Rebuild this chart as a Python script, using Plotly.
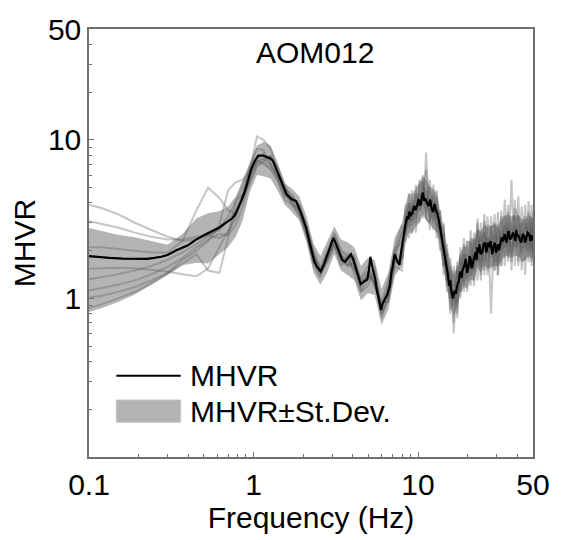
import plotly.graph_objects as go

# ---- Frequency grid used for the individual records and the ±1σ band (Hz)
freq = [0.10, 0.12, 0.15, 0.19, 0.24, 0.30, 0.37, 0.45, 0.53, 0.62,
        0.70, 0.78, 0.86, 0.95, 1.05, 1.15, 1.27, 1.40, 1.55, 1.72,
        1.90, 2.10, 2.32, 2.55, 2.80, 3.10, 3.40, 3.75, 4.10, 4.50,
        4.95, 5.45, 6.00, 6.60, 7.25,
        8.0, 8.4, 8.8, 9.2, 9.7, 10.2, 10.7, 11.2, 11.8, 12.4,
        13.0, 13.6, 14.3, 15.0, 15.7, 16.5, 17.3, 18.1, 19.0, 19.9,
        20.9, 21.9, 23.0, 24.1, 25.3, 26.5, 27.8, 29.2, 30.6, 32.1,
        33.7, 35.3, 37.0, 38.8, 40.7, 42.7, 44.8, 47.0, 49.0, 50.0]

# ---- MHVR + standard deviation and MHVR - standard deviation
band_upper = [2.78, 2.65, 2.52, 2.43, 2.30, 2.18, 2.55, 3.2, 3.45, 3.55,
              3.8, 4.4, 5.6, 7.1, 9.2, 9.7, 9.2, 7.2, 5.3, 4.9,
              4.4, 3.3, 2.2, 1.85, 2.3, 2.85, 2.35, 2.25, 2.1, 1.6,
              1.8, 1.75, 1.15, 1.45, 2.45,
              3.0, 3.9, 4.6, 4.5, 5.0, 5.4, 5.9, 5.6, 5.1, 4.9,
              4.6, 3.7, 2.8, 2.1, 1.7, 1.4, 1.6, 1.95, 2.15, 2.1,
              2.4, 2.35, 2.8, 2.6, 2.95, 2.8, 2.85, 2.95, 2.9, 3.15,
              3.35, 3.35, 3.3, 3.35, 3.35, 3.15, 3.15, 3.35, 3.3, 3.15]
band_lower = [0.82, 0.87, 0.95, 1.06, 1.22, 1.40, 1.62, 1.68, 1.66, 1.9,
              2.1, 2.45, 3.1, 4.7, 6.0, 5.9, 5.7, 4.8, 3.9, 3.5,
              3.1, 2.25, 1.45, 1.22, 1.45, 1.9, 1.5, 1.4, 1.3, 0.97,
              1.08, 1.05, 0.68, 0.85, 1.4,
              1.6, 2.2, 2.6, 2.55, 2.85, 3.0, 3.4, 3.1, 2.9, 2.75,
              2.6, 2.05, 1.55, 1.15, 0.92, 0.78, 0.87, 1.07, 1.18, 1.15,
              1.3, 1.3, 1.55, 1.45, 1.62, 1.55, 1.55, 1.62, 1.58, 1.73,
              1.85, 1.85, 1.8, 1.85, 1.85, 1.73, 1.73, 1.85, 1.8, 1.73]

# ---- Individual H/V records
rec_1 = [3.9, 3.7, 3.4, 3.0, 2.7, 2.45, 2.3, 2.35, 2.5, 2.7,
         3.1, 3.6, 4.6, 6.4, 10.5, 10.0, 8.8, 6.5, 5.0, 4.3,
         3.9, 2.9, 1.9, 1.6, 2.0, 2.6, 2.0, 1.9, 1.7, 1.3,
         1.5, 1.2, 0.95, 1.3, 2.1,
         2.9, 2.3, 4.6, 2.6, 5.2, 3.0, 6.0, 3.2, 5.6, 2.7,
         4.8, 2.0, 3.0, 1.1, 1.8, 0.7, 1.7, 1.0, 2.4, 1.1,
         2.7, 1.2, 3.2, 1.3, 3.4, 1.4, 3.3, 1.5, 3.5, 1.6,
         4.2, 1.7, 5.6, 1.6, 4.4, 1.5, 3.9, 1.7, 3.9, 1.8]
rec_2 = [3.07, 2.95, 2.8, 2.6, 2.45, 2.35, 2.35, 2.45, 2.5, 2.4,
         2.6, 3.2, 4.3, 6.0, 7.5, 8.2, 7.2, 5.6, 4.4, 4.4,
         3.5, 2.5, 1.7, 1.4, 1.7, 2.2, 1.7, 1.6, 1.9, 1.1,
         1.3, 1.6, 0.8, 1.0, 1.6,
         1.5, 3.9, 2.4, 4.8, 2.6, 5.6, 3.2, 8.3, 2.7, 5.2,
         2.4, 3.6, 1.4, 2.2, 0.8, 1.6, 0.75, 2.1, 1.1, 2.3,
         1.2, 2.6, 1.3, 3.0, 1.4, 3.3, 0.8, 3.4, 1.4, 3.6,
         1.6, 3.9, 1.5, 4.2, 1.6, 3.8, 1.4, 4.1, 1.6, 3.5]
rec_3 = [2.1, 2.1, 2.05, 2.0, 1.95, 1.95, 2.3, 3.6, 5.0, 4.3,
         3.6, 3.4, 4.2, 5.6, 7.2, 7.6, 7.9, 6.8, 5.3, 4.0,
         3.6, 2.8, 2.0, 1.5, 1.8, 2.5, 2.0, 1.8, 1.5, 1.35,
         1.6, 1.2, 0.9, 1.2, 2.0,
         2.6, 2.5, 4.0, 2.9, 4.6, 3.6, 4.0, 6.5, 3.3, 3.2,
         4.4, 2.4, 2.6, 1.3, 1.5, 0.6, 1.6, 1.1, 2.2, 1.3,
         1.4, 2.4, 1.6, 2.7, 1.5, 2.9, 2.8, 1.5, 2.8, 1.6,
         3.3, 1.8, 3.1, 3.3, 1.7, 2.9, 3.3, 1.8, 3.2, 2.0]
rec_4 = [1.54, 1.55, 1.56, 1.55, 1.52, 1.48, 1.42, 1.38, 1.55, 2.1,
         2.7, 3.3, 4.5, 6.8, 8.8, 8.6, 7.0, 5.9, 4.6, 3.9,
         3.4, 2.6, 1.6, 1.35, 1.9, 2.2, 1.6, 1.9, 1.4, 1.1,
         1.2, 1.5, 0.75, 1.05, 1.7,
         1.8, 3.6, 2.8, 4.2, 3.0, 5.1, 5.5, 3.2, 3.0, 4.6,
         2.6, 3.6, 1.6, 2.0, 1.0, 1.5, 0.8, 1.9, 1.2, 2.3,
         2.2, 1.3, 3.0, 1.4, 3.1, 1.5, 2.8, 3.0, 1.4, 3.3,
         1.8, 3.5, 1.7, 3.7, 3.3, 1.7, 1.8, 3.5, 1.7, 2.6]
rec_5 = [1.32, 1.36, 1.42, 1.5, 1.6, 1.75, 1.95, 2.2, 2.45, 2.75,
         3.3, 4.0, 5.2, 6.6, 7.4, 7.0, 6.6, 5.8, 4.5, 4.1,
         3.9, 2.6, 1.75, 1.55, 1.75, 2.3, 1.9, 1.6, 1.7, 1.25,
         1.35, 1.3, 0.95, 0.95, 2.0,
         2.3, 2.6, 3.9, 3.1, 4.2, 3.6, 5.1, 3.7, 5.0, 3.0,
         3.8, 2.4, 2.9, 1.2, 1.6, 0.9, 1.5, 1.1, 1.9, 1.4,
         2.3, 1.5, 2.7, 1.6, 2.6, 1.9, 2.7, 1.7, 2.8, 2.0,
         3.0, 1.9, 2.8, 2.1, 3.3, 1.9, 3.0, 2.0, 3.2, 1.9]
rec_6 = [1.12, 1.16, 1.22, 1.3, 1.42, 1.58, 1.8, 2.1, 2.35, 2.55,
         2.5, 2.9, 3.8, 5.5, 7.0, 7.3, 7.9, 6.4, 4.9, 4.5,
         3.8, 2.9, 1.9, 1.45, 1.8, 2.2, 1.9, 1.7, 1.6, 1.2,
         1.45, 1.25, 0.85, 1.15, 1.9,
         1.8, 3.3, 3.1, 3.9, 3.4, 4.6, 3.8, 4.8, 3.4, 4.4,
         3.1, 3.2, 1.8, 1.9, 1.0, 1.25, 0.9, 1.8, 1.4, 1.9,
         1.5, 2.3, 1.7, 2.5, 1.9, 2.4, 1.6, 2.9, 1.7, 2.7,
         2.1, 3.0, 1.9, 2.9, 2.1, 3.0, 2.1, 2.8, 2.0, 2.8]
rec_7 = [0.87, 0.92, 1.0, 1.1, 1.25, 1.45, 1.75, 2.0, 2.3, 2.9,
         4.8, 5.4, 5.6, 6.3, 7.3, 7.6, 6.9, 6.0, 4.6, 4.0,
         3.6, 2.7, 1.85, 1.5, 1.9, 2.4, 1.8, 1.8, 1.8, 1.3,
         1.35, 1.4, 0.9, 1.1, 1.8,
         2.6, 2.8, 4.0, 3.1, 4.6, 3.8, 5.4, 3.5, 4.3, 3.3,
         3.9, 2.5, 2.5, 1.3, 1.45, 0.95, 1.5, 1.2, 1.9, 1.35,
         2.0, 1.55, 2.5, 1.6, 2.6, 1.9, 2.4, 1.9, 2.5, 2.0,
         2.9, 2.2, 3.0, 2.0, 2.9, 2.0, 3.0, 2.2, 2.8, 2.0]
rec_8 = [1.01, 1.04, 1.1, 1.18, 1.3, 1.45, 1.65, 1.9, 1.5, 1.45,
         2.4, 4.2, 4.5, 5.3, 6.8, 7.3, 6.5, 5.5, 4.2, 3.9,
         3.3, 2.5, 1.7, 1.45, 1.7, 2.1, 1.75, 1.65, 1.55, 1.15,
         1.4, 1.3, 0.8, 1.0, 1.7,
         1.8, 3.2, 2.9, 3.9, 3.2, 4.6, 4.1, 5.0, 3.1, 4.0,
         2.9, 3.0, 1.6, 1.7, 0.85, 1.15, 0.95, 1.75, 1.25, 1.7,
         1.4, 2.0, 1.7, 2.2, 1.7, 2.4, 1.8, 2.5, 1.6, 2.6,
         2.1, 2.8, 2.0, 2.9, 2.2, 2.7, 2.0, 3.1, 2.0, 2.8]
records = [rec_1, rec_2, rec_3, rec_4, rec_5, rec_6, rec_7, rec_8]

# ---- Mean H/V ratio (MHVR), sampled more finely
mean_freq = [0.10, 0.115, 0.133, 0.16, 0.198, 0.225, 0.249, 0.275, 0.30, 0.34,
             0.40, 0.447, 0.506, 0.564, 0.62, 0.674, 0.741, 0.77, 0.804, 0.845,
             0.885, 0.93, 0.973, 1.02, 1.07, 1.146, 1.21, 1.26, 1.31, 1.37,
             1.44, 1.51, 1.59, 1.70, 1.82, 1.95, 2.09, 2.17, 2.26, 2.34,
             2.42, 2.49, 2.56, 2.67, 2.78, 2.92, 3.06, 3.18, 3.32, 3.46,
             3.60, 3.75, 3.91, 4.02, 4.12, 4.30, 4.48, 4.60, 4.73, 4.92,
             5.03, 5.13, 5.27, 5.38, 5.49, 5.60, 5.72, 5.84, 5.96, 6.08,
             6.21, 6.35, 6.47, 6.60, 6.74, 6.88, 7.02, 7.21, 7.36, 7.51,
             7.62, 7.72, 7.88, 8.04, 8.15, 8.26, 8.43, 8.61, 8.73, 8.85,
             9.03, 9.21, 9.34, 9.47, 9.66, 9.86, 9.98, 10.1, 10.25, 10.4,
             10.55, 10.7, 10.9, 11.1, 11.35, 11.6, 11.85, 12.1, 12.35, 12.6,
             12.85, 13.1, 13.4, 13.7, 14.0, 14.3, 14.6, 14.9, 15.2, 15.5,
             15.7, 15.9, 16.1, 16.3, 16.65, 17.0, 17.35, 17.7, 17.95, 18.2,
             18.45, 18.7, 19.1, 19.5, 19.9, 20.3, 20.6, 20.9, 21.15, 21.4,
             21.9, 22.4, 22.7, 23.0, 23.3, 23.6, 24.1, 24.6, 25.1, 25.6,
             25.95, 26.3, 26.65, 27.0, 27.6, 28.2, 28.75, 29.3, 29.75, 30.2,
             30.6, 31.0, 31.65, 32.3, 32.95, 33.6, 34.05, 34.5, 35.0, 35.5,
             36.25, 37.0, 37.75, 38.5, 39.05, 39.6, 40.15, 40.7, 41.55, 42.4,
             43.3, 44.2, 44.8, 45.4, 46.35, 47.3, 48.1, 49.0, 50.0]
mean_hvr = [1.85, 1.82, 1.80, 1.78, 1.77, 1.775, 1.80, 1.83, 1.88, 2.01,
            2.16, 2.35, 2.52, 2.66, 2.80, 2.98, 3.19, 3.35, 3.67, 4.15,
            4.72, 5.6, 6.6, 7.4, 7.95, 7.95, 7.80, 7.65, 7.4, 6.6,
            5.75, 5.1, 4.53, 4.23, 4.10, 3.42, 2.78, 2.35, 1.96, 1.72,
            1.59, 1.52, 1.48, 1.62, 1.83, 2.15, 2.41, 2.2, 1.96, 1.75,
            1.70, 1.80, 1.90, 1.78, 1.63, 1.40, 1.23, 1.26, 1.29, 1.32,
            1.50, 1.83, 1.59, 1.45, 1.32, 1.15, 1.04, 0.92, 0.845, 0.92,
            0.97, 1.01, 1.04, 1.12, 1.20, 1.45, 1.59, 1.90, 1.78, 1.70,
            1.66, 1.63, 1.95, 2.25, 2.45, 2.78, 3.0, 3.29, 3.15, 3.52,
            3.35, 3.43, 3.7, 3.83, 3.6, 3.94, 4.1, 4.23, 3.85, 3.94,
            4.3, 4.66, 4.2, 4.23, 4.0, 3.83, 4.2, 3.67, 3.5, 3.94,
            3.6, 3.43, 3.1, 2.70, 2.45, 2.10, 1.85, 1.59, 1.4, 1.20,
            1.3, 1.12, 1.05, 1.00, 1.12, 1.07, 1.22, 1.29, 1.42, 1.48,
            1.35, 1.52, 1.6, 1.77, 1.45, 1.59, 1.85, 1.77, 1.55, 1.59,
            1.8, 1.96, 1.75, 2.10, 1.95, 2.19, 1.9, 1.96, 2.2, 2.25,
            1.95, 2.04, 2.25, 2.10, 2.3, 1.90, 2.1, 2.25, 1.95, 2.01,
            2.2, 2.01, 2.2, 2.42, 2.3, 2.55, 2.4, 2.25, 2.45, 2.66,
            2.35, 2.42, 2.6, 2.48, 2.3, 2.70, 2.45, 2.52, 2.35, 2.25,
            2.55, 2.48, 2.25, 2.35, 2.6, 2.55, 2.3, 2.5, 2.32]

# ---- Tick labels
x_tick_vals = [0.1, 1, 10, 50]
x_tick_text = ["0.1", "1", "10", "50"]
y_tick_vals = [1, 10, 50]
y_tick_text = ["1", "10", "50"]
x_minor = [0.2, 0.3, 0.4, 0.5, 0.6, 0.7, 0.8, 0.9,
           2, 3, 4, 5, 6, 7, 8, 9, 20, 30, 40]
y_minor = [0.2, 0.3, 0.4, 0.5, 0.6, 0.7, 0.8, 0.9,
           2, 3, 4, 5, 6, 7, 8, 9, 20, 30, 40]

BAND_GREY = "rgb(180,180,180)"
REC_GREY = "rgba(95,95,95,0.36)"
AXIS_GREY = "#707070"
FONT = "Liberation Sans, Arial, sans-serif"

fig = go.Figure()

# standard deviation band as a closed polygon
fig.add_trace(go.Scatter(
    x=freq + freq[::-1], y=band_upper + band_lower[::-1],
    fill="toself", fillcolor=BAND_GREY, mode="lines",
    line=dict(width=0, color=BAND_GREY), hoverinfo="skip", showlegend=False))

for rec in records:
    fig.add_trace(go.Scatter(
        x=freq, y=rec, mode="lines",
        line=dict(color=REC_GREY, width=2), hoverinfo="skip", showlegend=False))

fig.add_trace(go.Scatter(
    x=mean_freq, y=mean_hvr, mode="lines",
    line=dict(color="black", width=2.2), showlegend=False))

# plot-area geometry in pixels
W, H = 562, 540
L, R, T, B = 89, 18, 24, 73
pw, ph = W - L - R, H - T - B


def px_x(px):
    return (px - L) / pw


def px_y(py):
    return (H - B - py) / ph


# legend drawn as line / swatch + labels
shapes = [
    dict(type="line", xref="paper", yref="paper",
         x0=px_x(117), x1=px_x(183), y0=px_y(383), y1=px_y(383),
         line=dict(color="black", width=2)),
    dict(type="rect", xref="paper", yref="paper",
         x0=px_x(117), x1=px_x(183), y0=px_y(431), y1=px_y(408),
         fillcolor="rgb(179,179,179)", line=dict(color="rgb(200,200,200)", width=1)),
]
annotations = [
    dict(text="MHVR", xref="paper", yref="paper", x=px_x(190), y=px_y(383),
         xanchor="left", yanchor="middle", showarrow=False,
         font=dict(size=30, color="black", family=FONT)),
    dict(text="MHVR±St.Dev.", xref="paper", yref="paper", x=px_x(190), y=px_y(420),
         xanchor="left", yanchor="middle", showarrow=False,
         font=dict(size=30, color="black", family=FONT)),
    dict(text="AOM012", xref="paper", yref="paper", x=px_x(321), y=px_y(48),
         xanchor="center", yanchor="middle", showarrow=False,
         font=dict(size=30, color="black", family=FONT)),
]

axis_common = dict(
    type="log", showgrid=False, zeroline=False,
    showline=True, linecolor=AXIS_GREY, linewidth=1.5, mirror=True,
    ticks="inside", ticklen=5, tickwidth=1, tickcolor=AXIS_GREY,
    tickfont=dict(size=30, color="black", family=FONT),
)

fig.update_layout(
    width=W, height=H,
    margin=dict(l=L, r=R, t=T, b=B),
    paper_bgcolor="white", plot_bgcolor="white",
    font=dict(family=FONT, color="black"),
    xaxis=dict(axis_common, range=[-1, 1.69897],
               tickmode="array", tickvals=x_tick_vals, ticktext=x_tick_text,
               minor=dict(tickmode="array", tickvals=x_minor, ticks="inside",
                          ticklen=3, tickcolor=AXIS_GREY, showgrid=False),
               title=dict(text="Frequency (Hz)", standoff=6,
                          font=dict(size=30, color="black", family=FONT))),
    yaxis=dict(axis_common, range=[-1, 1.69897],
               tickmode="array", tickvals=y_tick_vals, ticktext=y_tick_text,
               minor=dict(tickmode="array", tickvals=y_minor, ticks="inside",
                          ticklen=3, tickcolor=AXIS_GREY, showgrid=False),
               title=dict(text="MHVR", standoff=3,
                          font=dict(size=30, color="black", family=FONT))),
    shapes=shapes,
    annotations=annotations,
    showlegend=False,
)

fig.write_html("out.html")
